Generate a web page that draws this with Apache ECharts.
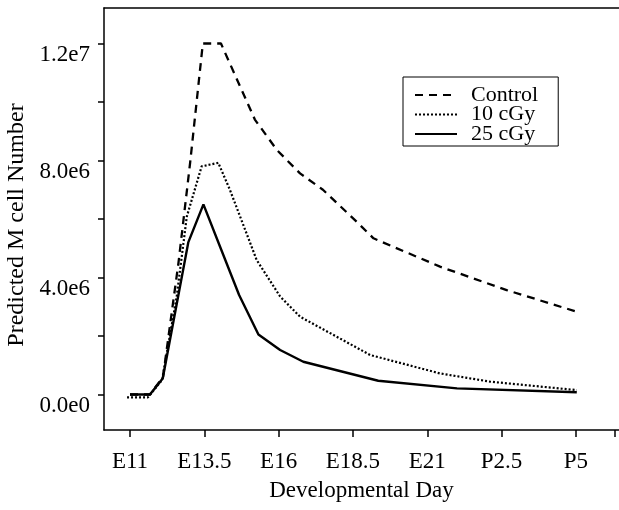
<html>
<head>
    <meta charset='UTF-8'>
    <title></title>
    <style>
        body { margin: 0; background: #ffffff; }
        #chart { width: 619px; height: 510px; }
    </style>
</head>
<body>
    <div id='chart'></div>
</body>
<script src='https://cdn.jsdelivr.net/npm/echarts@6/dist/echarts.min.js'></script>
<script>
    // 数据
    var controlDays = [11, 11.67, 12.11, 12.63, 13.02, 13.45, 14.06, 15.2, 15.94, 16.72, 17.49, 18.63, 19.19, 21.43, 23.67, 26.03];
    var controlCells = [0, 0, 0.6e6, 4.5e6, 7.9e6, 12.0e6, 12.0e6, 9.4e6, 8.36e6, 7.56e6, 7.0e6, 5.9e6, 5.34e6, 4.37e6, 3.57e6, 2.83e6];
    var gy10Days = [10.9, 11.6, 12.08, 12.57, 12.91, 13.41, 13.97, 14.36, 15.26, 16.05, 16.72, 19.08, 21.43, 23.11, 26.03];
    var gy10Cells = [-0.1e6, -0.1e6, 0.5e6, 3.34e6, 6.08e6, 7.8e6, 7.92e6, 7.0e6, 4.6e6, 3.35e6, 2.66e6, 1.35e6, 0.72e6, 0.44e6, 0.15e6];
    var gy25Days = [11, 11.67, 12.1, 12.96, 13.47, 14.03, 14.67, 15.32, 16.05, 16.83, 19.35, 22.0, 26.03];
    var gy25Cells = [0, 0, 0.55e6, 5.2e6, 6.5e6, 5.05e6, 3.4e6, 2.05e6, 1.52e6, 1.12e6, 0.47e6, 0.21e6, 0.075e6];

    var xTickValues = [11, 13.5, 16, 18.5, 21, 23.5, 26];
    var xTickLabels = ['E11', 'E13.5', 'E16', 'E18.5', 'E21', 'P2.5', 'P5'];
    var yTickValues = [0, 2e6, 4e6, 6e6, 8e6, 10e6, 12e6];
    var yLabelValues = [0, 4e6, 8e6, 12e6];
    var yLabels = ['0.0e0', '4.0e6', '8.0e6', '1.2e7'];

    var font = 'Liberation Serif';

    function pairs(xs, ys) {
        var out = [];
        for (var i = 0; i < xs.length; i++) out.push([xs[i], ys[i]]);
        return out;
    }

    var mychart = echarts.init(document.getElementById('chart'));
    var option = {
        backgroundColor: '#ffffff',
        animation: false,
        grid: { left: 104, right: 0, top: 8, bottom: 80, outerBoundsMode: 'none' },
        legend: {
            orient: 'vertical',
            left: 403,
            top: 77,
            padding: [7, 20, 1, 11],
            borderColor: '#000',
            borderWidth: 1,
            itemWidth: 42,
            itemHeight: 19,
            itemGap: -2.5,
            itemStyle: { opacity: 0 },
            textStyle: { fontFamily: font, fontSize: 22, color: '#000', padding: [0, 0, 0, 9] },
            data: ['Control', '10 cGy', '25 cGy']
        },
        xAxis: [{
            type: 'value',
            min: 10.125,
            max: 27.45,
            name: 'Developmental Day',
            nameLocation: 'middle',
            nameGap: 49,
            nameTextStyle: { fontFamily: font, fontSize: 23, color: '#000' },
            splitLine: { show: false },
            axisLine: { onZero: false, lineStyle: { color: '#000', width: 1.5 } },
            axisTick: { length: 7, customValues: xTickValues.concat([27.32]), lineStyle: { color: '#000', width: 1.5 } },
            axisLabel: {
                customValues: xTickValues,
                margin: 20,
                fontFamily: font, fontSize: 23, color: '#000',
                formatter: function (v) {
                    var i = xTickValues.indexOf(v);
                    return i >= 0 ? xTickLabels[i] : '';
                }
            }
        }, {
            type: 'value',
            position: 'top',
            min: 10.125,
            max: 27.45,
            axisLine: { show: true, onZero: false, lineStyle: { color: '#000', width: 1.5 } },
            axisTick: { show: false },
            axisLabel: { show: false },
            splitLine: { show: false }
        }],
        yAxis: {
            type: 'value',
            min: -1.2137e6,
            max: 13.214e6,
            name: 'Predicted M cell Number',
            nameLocation: 'middle',
            nameGap: 55,
            nameTextStyle: { fontFamily: font, fontSize: 24, color: '#000', padding: [0, 12, 0, 0] },
            splitLine: { show: false },
            axisLine: { show: true, onZero: false, lineStyle: { color: '#000', width: 1.5 } },
            axisTick: { show: true, length: 6, customValues: yTickValues, lineStyle: { color: '#000', width: 1.5 } },
            axisLabel: {
                customValues: yLabelValues,
                margin: 14,
                verticalAlign: 'top',
                fontFamily: font, fontSize: 23, color: '#000',
                formatter: function (v) {
                    var i = yLabelValues.indexOf(v);
                    return i >= 0 ? yLabels[i] : '';
                }
            }
        },
        series: [
            {
                name: 'Control', type: 'line', symbol: 'none', silent: true,
                lineStyle: { color: '#000', width: 2.3, type: [8, 6] },
                itemStyle: { color: '#000' },
                data: pairs(controlDays, controlCells)
            },
            {
                name: '10 cGy', type: 'line', symbol: 'none', silent: true,
                lineStyle: { color: '#000', width: 2.2, type: [2, 2] },
                itemStyle: { color: '#000' },
                data: pairs(gy10Days, gy10Cells)
            },
            {
                name: '25 cGy', type: 'line', symbol: 'none', silent: true,
                lineStyle: { color: '#000', width: 2.4, type: 'solid' },
                itemStyle: { color: '#000' },
                data: pairs(gy25Days, gy25Cells)
            }
        ]
    };
    mychart.setOption(option);
</script>
</html>
